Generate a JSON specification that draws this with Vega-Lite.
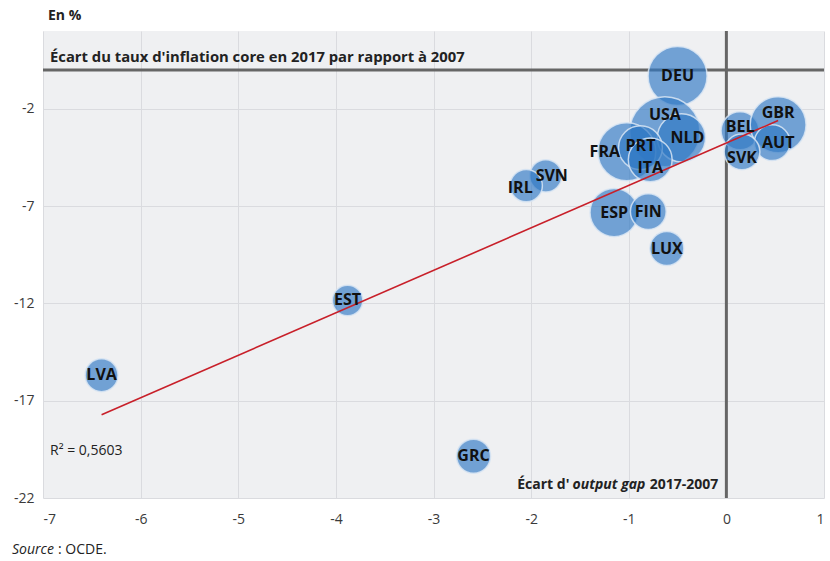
{
  "$schema": "https://vega.github.io/schema/vega-lite/v6.json",
  "width": 781,
  "height": 467,
  "autosize": {"type": "none"},
  "padding": {"left": 43, "top": 31, "right": 6, "bottom": 63},
  "background": "white",
  "config": {
    "view": {"fill": "#eff0f2", "stroke": null},
    "font": "Open Sans",
    "axis": {
      "grid": true,
      "gridColor": "#dadbdf",
      "gridWidth": 1,
      "domain": false,
      "ticks": false,
      "labelFont": "Open Sans",
      "labelFontSize": 14,
      "labelColor": "#3a3a3a",
      "labelExpr": "'' + datum.value",
      "title": null
    },
    "text": {"font": "Open Sans", "color": "#111111", "baseline": "middle"}
  },
  "datasets": {
    "annot": [{"id": 1}]
  },
  "data": {
    "values": [
      {"pays": "DEU", "ecart_output_gap": -0.50, "ecart_inflation": -0.31, "poids": 87},
      {"pays": "USA", "ecart_output_gap": -0.63, "ecart_inflation": -3.18, "poids": 123},
      {"pays": "NLD", "ecart_output_gap": -0.46, "ecart_inflation": -3.49, "poids": 58},
      {"pays": "FRA", "ecart_output_gap": -1.02, "ecart_inflation": -4.21, "poids": 84},
      {"pays": "PRT", "ecart_output_gap": -0.88, "ecart_inflation": -4.00, "poids": 48},
      {"pays": "ITA", "ecart_output_gap": -0.78, "ecart_inflation": -4.62, "poids": 48},
      {"pays": "BEL", "ecart_output_gap": 0.14, "ecart_inflation": -3.13, "poids": 36},
      {"pays": "GBR", "ecart_output_gap": 0.53, "ecart_inflation": -2.82, "poids": 78},
      {"pays": "AUT", "ecart_output_gap": 0.47, "ecart_inflation": -3.74, "poids": 32},
      {"pays": "SVK", "ecart_output_gap": 0.16, "ecart_inflation": -4.21, "poids": 32},
      {"pays": "ESP", "ecart_output_gap": -1.15, "ecart_inflation": -7.33, "poids": 58},
      {"pays": "FIN", "ecart_output_gap": -0.80, "ecart_inflation": -7.28, "poids": 32},
      {"pays": "LUX", "ecart_output_gap": -0.61, "ecart_inflation": -9.18, "poids": 29},
      {"pays": "SVN", "ecart_output_gap": -1.85, "ecart_inflation": -5.44, "poids": 26},
      {"pays": "IRL", "ecart_output_gap": -2.05, "ecart_inflation": -5.95, "poids": 26},
      {"pays": "EST", "ecart_output_gap": -3.88, "ecart_inflation": -11.85, "poids": 23},
      {"pays": "LVA", "ecart_output_gap": -6.40, "ecart_inflation": -15.69, "poids": 27},
      {"pays": "GRC", "ecart_output_gap": -2.59, "ecart_inflation": -19.85, "poids": 29}
    ]
  },
  "layer": [
    {
      "data": {"name": "annot"},
      "mark": {"type": "rule", "color": "#666666", "strokeWidth": 3},
      "encoding": {"x": {"datum": 0, "type": "quantitative", "scale": {"domain": [-7, 1], "nice": false, "zero": false}, "axis": {"values": [-7, -6, -5, -4, -3, -2, -1, 0, 1], "labelPadding": 14}}}
    },
    {
      "data": {"name": "annot"},
      "mark": {"type": "rule", "color": "#666666", "strokeWidth": 3},
      "encoding": {"y": {"datum": 0, "type": "quantitative", "scale": {"domain": [-22, 2], "nice": false, "zero": false}, "axis": {"values": [-22, -17, -12, -7, -2], "labelPadding": 9}}}
    },
    {
      "mark": {"type": "circle", "color": "#2f78c4", "fillOpacity": 0.66, "stroke": "#d8e5f3", "strokeWidth": 1.5, "strokeOpacity": 0.85},
      "encoding": {
        "x": {"field": "ecart_output_gap", "type": "quantitative"},
        "y": {"field": "ecart_inflation", "type": "quantitative"},
        "size": {"field": "poids", "type": "quantitative", "scale": {"type": "linear", "domain": [0, 100], "range": [0, 4000], "zero": true}, "legend": null}
      }
    },
    {
      "transform": [{"regression": "ecart_inflation", "on": "ecart_output_gap"}],
      "mark": {"type": "line", "color": "#c8202a", "strokeWidth": 1.6},
      "encoding": {
        "x": {"field": "ecart_output_gap", "type": "quantitative"},
        "y": {"field": "ecart_inflation", "type": "quantitative"}
      }
    },
    {
      "transform": [{"filter": {"field": "pays", "oneOf": ["DEU", "ESP", "FIN", "LUX", "EST", "LVA", "GRC"]}}],
      "mark": {"type": "text", "fontWeight": "bold", "fontSize": 16},
      "encoding": {"x": {"field": "ecart_output_gap", "type": "quantitative"}, "y": {"field": "ecart_inflation", "type": "quantitative"}, "text": {"field": "pays"}}
    },
    {
      "transform": [{"filter": {"field": "pays", "equal": "PRT"}}],
      "mark": {"type": "text", "fontWeight": "bold", "fontSize": 16, "dy": -2},
      "encoding": {"x": {"field": "ecart_output_gap", "type": "quantitative"}, "y": {"field": "ecart_inflation", "type": "quantitative"}, "text": {"field": "pays"}}
    },
    {
      "transform": [{"filter": {"field": "pays", "equal": "USA"}}],
      "mark": {"type": "text", "fontWeight": "bold", "fontSize": 16, "dy": -17},
      "encoding": {"x": {"field": "ecart_output_gap", "type": "quantitative"}, "y": {"field": "ecart_inflation", "type": "quantitative"}, "text": {"field": "pays"}}
    },
    {
      "transform": [{"filter": {"field": "pays", "equal": "GBR"}}],
      "mark": {"type": "text", "fontWeight": "bold", "fontSize": 16, "dy": -12},
      "encoding": {"x": {"field": "ecart_output_gap", "type": "quantitative"}, "y": {"field": "ecart_inflation", "type": "quantitative"}, "text": {"field": "pays"}}
    },
    {
      "transform": [{"filter": {"field": "pays", "equal": "FRA"}}],
      "mark": {"type": "text", "fontWeight": "bold", "fontSize": 16, "dx": -22},
      "encoding": {"x": {"field": "ecart_output_gap", "type": "quantitative"}, "y": {"field": "ecart_inflation", "type": "quantitative"}, "text": {"field": "pays"}}
    },
    {
      "transform": [{"filter": {"field": "pays", "oneOf": ["NLD", "SVN", "AUT"]}}],
      "mark": {"type": "text", "fontWeight": "bold", "fontSize": 16, "dx": 6},
      "encoding": {"x": {"field": "ecart_output_gap", "type": "quantitative"}, "y": {"field": "ecart_inflation", "type": "quantitative"}, "text": {"field": "pays"}}
    },
    {
      "transform": [{"filter": {"field": "pays", "equal": "IRL"}}],
      "mark": {"type": "text", "fontWeight": "bold", "fontSize": 16, "dx": -6, "dy": 2},
      "encoding": {"x": {"field": "ecart_output_gap", "type": "quantitative"}, "y": {"field": "ecart_inflation", "type": "quantitative"}, "text": {"field": "pays"}}
    },
    {
      "transform": [{"filter": {"field": "pays", "equal": "SVK"}}],
      "mark": {"type": "text", "fontWeight": "bold", "fontSize": 16, "dy": 6},
      "encoding": {"x": {"field": "ecart_output_gap", "type": "quantitative"}, "y": {"field": "ecart_inflation", "type": "quantitative"}, "text": {"field": "pays"}}
    },
    {
      "transform": [{"filter": {"field": "pays", "equal": "ITA"}}],
      "mark": {"type": "text", "fontWeight": "bold", "fontSize": 16, "dy": 8},
      "encoding": {"x": {"field": "ecart_output_gap", "type": "quantitative"}, "y": {"field": "ecart_inflation", "type": "quantitative"}, "text": {"field": "pays"}}
    },
    {
      "transform": [{"filter": {"field": "pays", "equal": "BEL"}}],
      "mark": {"type": "text", "fontWeight": "bold", "fontSize": 16, "dy": -4},
      "encoding": {"x": {"field": "ecart_output_gap", "type": "quantitative"}, "y": {"field": "ecart_inflation", "type": "quantitative"}, "text": {"field": "pays"}}
    },
    {
      "data": {"name": "annot"},
      "mark": {"type": "text", "text": "Écart du taux d'inflation core en 2017 par rapport à 2007", "fontWeight": "bold", "fontSize": 14.8, "color": "#222222", "align": "left", "dx": 7, "dy": -12},
      "encoding": {"x": {"datum": -7, "type": "quantitative"}, "y": {"datum": 0, "type": "quantitative"}}
    },
    {
      "data": {"name": "annot"},
      "mark": {"type": "text", "text": "En %", "fontWeight": "bold", "fontSize": 14, "color": "#222222", "align": "left", "dx": 5, "dy": -15},
      "encoding": {"x": {"datum": -7, "type": "quantitative"}, "y": {"datum": 2, "type": "quantitative"}}
    },
    {
      "data": {"name": "annot"},
      "mark": {"type": "text", "text": "R² = 0,5603", "fontSize": 14, "color": "#222222", "align": "left", "dx": 7},
      "encoding": {"x": {"datum": -7, "type": "quantitative"}, "y": {"datum": -19.6, "type": "quantitative"}}
    },
    {
      "data": {"name": "annot"},
      "mark": {"type": "text", "text": "2017-2007", "fontWeight": "bold", "fontSize": 14, "color": "#222222", "align": "right", "dx": -8},
      "encoding": {"x": {"datum": 0, "type": "quantitative"}, "y": {"datum": -21.33, "type": "quantitative"}}
    },
    {
      "data": {"name": "annot"},
      "mark": {"type": "text", "text": "output gap", "fontWeight": "bold", "fontStyle": "italic", "fontSize": 14, "color": "#222222", "align": "right", "dx": -81},
      "encoding": {"x": {"datum": 0, "type": "quantitative"}, "y": {"datum": -21.33, "type": "quantitative"}}
    },
    {
      "data": {"name": "annot"},
      "mark": {"type": "text", "text": "Écart d'", "fontWeight": "bold", "fontSize": 14, "color": "#222222", "align": "right", "dx": -157},
      "encoding": {"x": {"datum": 0, "type": "quantitative"}, "y": {"datum": -21.33, "type": "quantitative"}}
    },
    {
      "data": {"name": "annot"},
      "mark": {"type": "text", "text": "Source", "fontStyle": "italic", "fontSize": 14, "color": "#222222", "align": "left", "dx": -31, "dy": 52},
      "encoding": {"x": {"datum": -7, "type": "quantitative"}, "y": {"datum": -22, "type": "quantitative"}}
    },
    {
      "data": {"name": "annot"},
      "mark": {"type": "text", "text": ": OCDE.", "fontSize": 14, "color": "#222222", "align": "left", "dx": 15, "dy": 52},
      "encoding": {"x": {"datum": -7, "type": "quantitative"}, "y": {"datum": -22, "type": "quantitative"}}
    }
  ]
}
